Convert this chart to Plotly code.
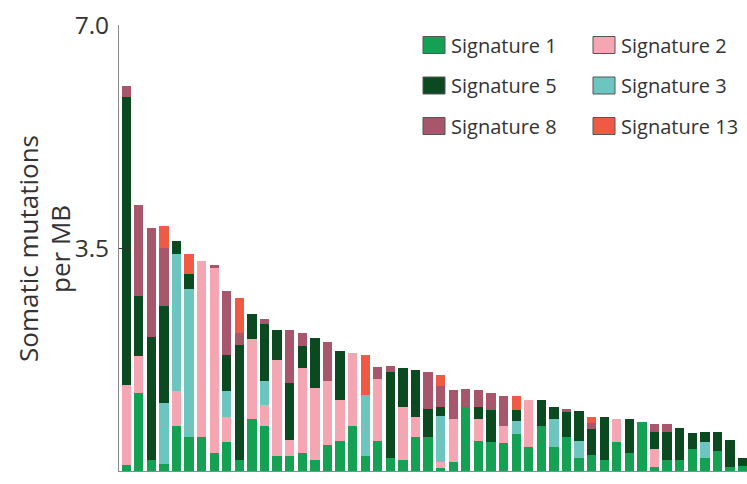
import plotly.graph_objects as go

# Per-sample mutation burden (mutations per MB) attributed to each signature
samples = [f"S{i + 1}" for i in range(50)]

sig1 = [0.10, 1.22, 0.18, 0.11, 0.71, 0.54, 0.54, 0.28, 0.45, 0.18,
        0.82, 0.71, 0.24, 0.24, 0.28, 0.17, 0.41, 0.47, 0.71, 0.24,
        0.47, 0.21, 0.17, 0.54, 0.54, 0.04, 0.14, 1.01, 0.47, 0.45,
        0.44, 0.58, 0.38, 0.71, 0.38, 0.54, 0.21, 0.25, 0.17, 0.45,
        0.28, 0.77, 0.07, 0.17, 0.17, 0.34, 0.21, 0.32, 0.06, 0.08]
sig2 = [1.25, 0.59, 0.00, 0.00, 0.54, 0.00, 2.76, 2.92, 0.39, 0.00,
        1.25, 0.33, 1.51, 0.24, 1.34, 1.14, 1.00, 0.64, 1.14, 0.00,
        0.97, 0.00, 0.84, 0.30, 0.00, 0.10, 0.67, 0.00, 0.34, 0.00,
        0.27, 0.00, 0.73, 0.00, 0.00, 0.00, 0.00, 0.00, 0.00, 0.36,
        0.00, 0.00, 0.27, 0.00, 0.00, 0.00, 0.00, 0.00, 0.00, 0.00]
sig3 = [0.00, 0.00, 0.00, 0.95, 2.16, 2.31, 0.00, 0.00, 0.41, 0.00,
        0.00, 0.37, 0.00, 0.00, 0.00, 0.00, 0.00, 0.00, 0.00, 0.95,
        0.00, 0.00, 0.00, 0.00, 0.00, 0.73, 0.00, 0.00, 0.00, 0.00,
        0.00, 0.20, 0.00, 0.00, 0.44, 0.00, 0.26, 0.00, 0.00, 0.00,
        0.00, 0.00, 0.00, 0.00, 0.00, 0.00, 0.24, 0.00, 0.00, 0.00]
sig5 = [4.52, 0.94, 1.93, 1.53, 0.20, 0.24, 0.00, 0.00, 0.57, 1.80,
        0.39, 0.90, 0.47, 0.90, 0.34, 0.77, 0.00, 0.77, 0.00, 0.00,
        0.00, 1.34, 0.61, 0.74, 0.44, 0.14, 0.00, 0.00, 0.19, 0.50,
        0.00, 0.17, 0.00, 0.41, 0.19, 0.38, 0.47, 0.41, 0.67, 0.00,
        0.53, 0.00, 0.27, 0.44, 0.50, 0.26, 0.16, 0.29, 0.42, 0.13]
sig8 = [0.18, 1.42, 1.71, 0.91, 0.00, 0.00, 0.00, 0.03, 1.00, 0.19,
        0.00, 0.07, 0.00, 0.84, 0.20, 0.00, 0.61, 0.00, 0.00, 0.00,
        0.20, 0.10, 0.00, 0.00, 0.58, 0.33, 0.46, 0.27, 0.27, 0.27,
        0.47, 0.00, 0.00, 0.00, 0.00, 0.05, 0.00, 0.09, 0.00, 0.00,
        0.00, 0.00, 0.13, 0.13, 0.00, 0.00, 0.00, 0.00, 0.00, 0.00]
sig13 = [0.00, 0.00, 0.00, 0.34, 0.00, 0.31, 0.00, 0.00, 0.00, 0.54,
         0.00, 0.00, 0.00, 0.00, 0.00, 0.00, 0.00, 0.00, 0.00, 0.63,
         0.00, 0.00, 0.00, 0.00, 0.00, 0.17, 0.00, 0.00, 0.00, 0.00,
         0.00, 0.23, 0.00, 0.00, 0.00, 0.00, 0.00, 0.09, 0.00, 0.00,
         0.00, 0.00, 0.00, 0.00, 0.00, 0.00, 0.00, 0.00, 0.00, 0.00]

# Stacking order, bottom to top
series_names = ["Signature 1", "Signature 2", "Signature 3",
                "Signature 5", "Signature 8", "Signature 13"]
series_values = [sig1, sig2, sig3, sig5, sig8, sig13]
series_colors = ["#15a153", "#f4a7b2", "#6cc6bf", "#0b4a21", "#a7566b", "#ef5a44"]

# Legend layout: two columns, three rows
legend_order = ["Signature 1", "Signature 2", "Signature 5",
                "Signature 3", "Signature 8", "Signature 13"]

y_ticks = [0.0, 3.5, 7.0]
y_title_lines = ["Somatic mutations", "per MB"]

FONT = "Open Sans"
TEXT = "#333333"

W, H = 747, 484
ML, MR, MT, MB = 119, 0, 25, 13
PW, PH = W - ML - MR, H - MT - MB


def px_x(x):
    return (x - ML) / PW


def px_y(y):
    return (H - MB - y) / PH


fig = go.Figure()
for name, vals, col in zip(series_names, series_values, series_colors):
    fig.add_trace(go.Bar(
        x=list(range(len(samples))), y=vals, name=name,
        marker=dict(color=col, line=dict(width=0)),
        width=0.74, showlegend=False,
        hovertext=samples,
    ))

# Legend drawn as swatches and labels
col_swatch_x = [423, 593]
col_text_x = [449, 619]
row_y = [45, 85.5, 126]
shapes = []
annotations = []
for k, name in enumerate(legend_order):
    r, c = divmod(k, 2)
    col = series_colors[series_names.index(name)]
    x0 = col_swatch_x[c]
    yc = row_y[r]
    shapes.append(dict(
        type="rect", xref="paper", yref="paper",
        x0=px_x(x0), x1=px_x(x0 + 22), y0=px_y(yc + 8.5), y1=px_y(yc - 8.5),
        fillcolor=col, line=dict(color="#555555", width=1),
    ))
    annotations.append(dict(
        xref="paper", yref="paper", x=px_x(col_text_x[c]), y=px_y(yc),
        xanchor="left", yanchor="middle", showarrow=False, text=name,
        font=dict(family=FONT, size=20, color=TEXT),
    ))

# Y-axis title, two rotated lines
for line, cx in zip(y_title_lines, [28, 60]):
    annotations.append(dict(
        xref="paper", yref="paper", x=px_x(cx), y=px_y(249),
        xanchor="center", yanchor="middle", showarrow=False, textangle=-90,
        text=line, font=dict(family=FONT, size=26, color=TEXT),
    ))

fig.update_layout(
    width=W, height=H,
    margin=dict(l=ML, r=MR, t=MT, b=MB, pad=0),
    plot_bgcolor="white", paper_bgcolor="white",
    barmode="stack",
    shapes=shapes, annotations=annotations,
    xaxis=dict(
        range=[-0.57, 49.35], showticklabels=False, ticks="",
        showgrid=False, zeroline=False,
        showline=True, linecolor="#8a8a8a", linewidth=1,
    ),
    yaxis=dict(
        range=[0, 7], tickvals=y_ticks, ticktext=[f"{v:.1f}" for v in y_ticks],
        ticks="inside", ticklen=12, tickcolor="#333333", tickwidth=1,
        showgrid=False, zeroline=False,
        showline=True, linecolor="#8a8a8a", linewidth=1,
        tickfont=dict(family=FONT, size=24.5, color=TEXT),
        ticklabelstandoff=4,
    ),
)

fig.write_html("out.html")
